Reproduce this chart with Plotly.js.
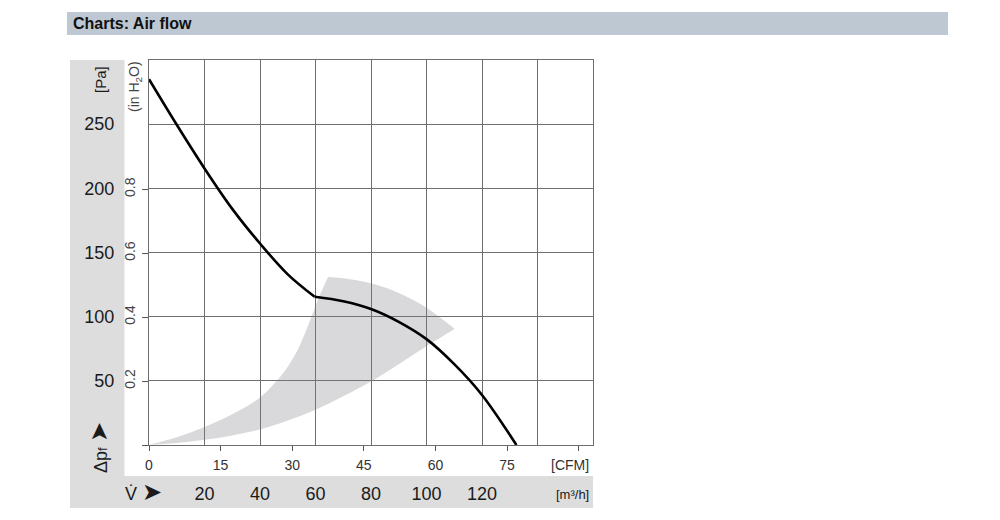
<!DOCTYPE html>
<html>
<head>
<meta charset="utf-8">
<script src="https://cdn.plot.ly/plotly-3.0.1.min.js"></script>
<style>html,body{margin:0;padding:0;background:#fff;}#chart{width:1000px;height:520px;}</style>
</head>
<body>
<div id="chart"></div>
<script>
// Characteristic curve: volume flow [m³/h] vs static pressure [Pa]
const flowM3h = [0,10,20,30,40,50,59.7,70,80,90,100,110,120,132.4];
const pressurePa = [285,249.5,215.5,184,157,133,115.5,112,106,96,82.5,63,39,0];
const kinkIndex = 6; // sharp bend of the curve at 59.7 m³/h

// Recommended operating range (grey band): outer edge then inner edge
const bandOuterX = [0,0,10,20,30,40,46,50,54,58,61,64.5,64.5,70,80,90,100,110.2,110.2];
const bandOuterY = [0,0,6,14,24,37,50,61,76,97,114,131,131,130,126,118.5,107,90.5,90.5];
const bandInnerX = [105,100,90,80,70,60,50,40,30,20,10,0];
const bandInnerY = [83.5,77,63,49.5,38,27.5,19,12,7.5,4,1.5,0];

// Axis ticks
const m3hTicks = [0,20,40,60,80,100,120,140,160];
const m3hLabels = ['','20','40','60','80','100','120','',''];
const cfmTicks = [0,15,30,45,60,75,90];
const cfmLabels = ['0','15','30','45','60','75',''];
const paTicks = [0,50,100,150,200,250,300];
const paLabels = ['','50','100','150','200','250',''];
const inH2OTicks = [0,0.2,0.4,0.6,0.8];
const inH2OLabels = ['','0.2','0.4','0.6','0.8'];

const FONT = 'Liberation Sans, Arial, Helvetica, sans-serif';
const GRID = '#6e6e6e';

const traces = [
  {
    x: bandOuterX.concat(bandInnerX),
    y: bandOuterY.concat(bandInnerY),
    type: 'scatter', mode: 'lines', fill: 'toself',
    fillcolor: 'rgba(128,130,136,0.30)', line: {width: 0, shape: 'spline', smoothing: 1},
    hoverinfo: 'skip', xaxis: 'x', yaxis: 'y'
  },
  {
    x: flowM3h.slice(0, kinkIndex + 1), y: pressurePa.slice(0, kinkIndex + 1),
    type: 'scatter', mode: 'lines',
    line: {color: '#000', width: 2.6, shape: 'spline', smoothing: 1},
    xaxis: 'x', yaxis: 'y'
  },
  {
    x: flowM3h.slice(kinkIndex), y: pressurePa.slice(kinkIndex),
    type: 'scatter', mode: 'lines',
    line: {color: '#000', width: 2.6, shape: 'spline', smoothing: 1},
    xaxis: 'x', yaxis: 'y'
  },
  {x: [], y: [], type: 'scatter', mode: 'lines', xaxis: 'x2', yaxis: 'y', hoverinfo: 'skip'},
  {x: [], y: [], type: 'scatter', mode: 'lines', xaxis: 'x', yaxis: 'y2', hoverinfo: 'skip'}
];

const W = 444, H = 385, L = 149, T = 60;
const px = v => (v - L) / W;
const py = v => (T + H - v) / H;

const layout = {
  width: 1000, height: 520,
  margin: {l: 149, r: 407, t: 60, b: 75, pad: 0},
  paper_bgcolor: '#fff', plot_bgcolor: '#fff',
  showlegend: false,
  font: {family: FONT, color: '#1a1a1a'},
  xaxis: {
    range: [0, 160], tickmode: 'array', tickvals: m3hTicks, ticktext: m3hLabels,
    showgrid: true, gridcolor: GRID, gridwidth: 1, zeroline: false,
    ticks: '', ticklabelstandoff: 32,
    tickfont: {size: 18, color: '#1a1a1a', family: FONT},
    showline: true, mirror: true, linecolor: GRID, linewidth: 1, fixedrange: true
  },
  xaxis2: {
    overlaying: 'x', anchor: 'y', side: 'bottom',
    range: [0, 93], tickmode: 'array', tickvals: cfmTicks, ticktext: cfmLabels,
    showgrid: false, zeroline: false, showline: false,
    ticks: 'outside', ticklen: 5, tickcolor: '#555', tickwidth: 1,
    ticklabelstandoff: 2,
    tickfont: {size: 14, color: '#333', family: FONT}, fixedrange: true
  },
  yaxis: {
    range: [0, 300], tickmode: 'array', tickvals: paTicks, ticktext: paLabels,
    showgrid: true, gridcolor: GRID, gridwidth: 1, zeroline: false,
    ticks: '', ticklabelstandoff: 30,
    tickfont: {size: 18, color: '#1a1a1a', family: FONT},
    showline: true, mirror: true, linecolor: GRID, linewidth: 1, fixedrange: true
  },
  yaxis2: {
    overlaying: 'y', anchor: 'x', side: 'left',
    range: [0, 300 / 249.089], tickmode: 'array', tickvals: inH2OTicks, ticktext: inH2OLabels,
    showgrid: false, zeroline: false, showline: false,
    ticks: 'outside', ticklen: 6, tickcolor: '#555', tickwidth: 1,
    tickangle: -90, ticklabelstandoff: 1,
    tickfont: {size: 14, color: '#444', family: FONT}, fixedrange: true
  },
  shapes: [
    {type: 'rect', xref: 'paper', yref: 'paper', x0: px(67), x1: px(948), y0: py(35), y1: py(12),
     fillcolor: '#bec8d2', line: {width: 0}, layer: 'below'},
    {type: 'rect', xref: 'paper', yref: 'paper', x0: px(70), x1: px(124.5), y0: py(508), y1: py(60),
     fillcolor: '#dddddd', line: {width: 0}, layer: 'below'},
    {type: 'rect', xref: 'paper', yref: 'paper', x0: px(70), x1: px(593), y0: py(508), y1: py(476),
     fillcolor: '#dddddd', line: {width: 0}, layer: 'below'}
  ],
  annotations: [
    {text: '<b>Charts: Air flow</b>', xref: 'paper', yref: 'paper', x: px(71), y: py(23.5),
     xanchor: 'left', yanchor: 'middle', showarrow: false,
     font: {family: FONT, size: 16, color: '#111'}},
    {text: '[Pa]', xref: 'paper', yref: 'paper', x: px(100), y: py(80), textangle: -90,
     xanchor: 'center', yanchor: 'middle', showarrow: false, font: {size: 15, color: '#1a1a1a'}},
    {text: '(in H<sub>2</sub>O)', xref: 'paper', yref: 'paper', x: px(135), y: py(87), textangle: -90,
     xanchor: 'center', yanchor: 'middle', showarrow: false, font: {size: 14, color: '#444'}},
    {text: 'Δp<span style="font-size:13px">f</span> <span style="font-size:24px">➤</span>', xref: 'paper', yref: 'paper', x: px(99), y: py(448), textangle: -90,
     xanchor: 'center', yanchor: 'middle', showarrow: false, font: {size: 18, color: '#1a1a1a'}},
    {text: 'V\u0307 <span style="font-size:24px">➤</span>', xref: 'paper', yref: 'paper', x: px(143), y: py(491),
     xanchor: 'center', yanchor: 'middle', showarrow: false, font: {size: 18, color: '#1a1a1a'}},
    {text: '[CFM]', xref: 'paper', yref: 'paper', x: px(591), y: py(465),
     xanchor: 'right', yanchor: 'middle', showarrow: false, font: {size: 14, color: '#333'}},
    {text: '[m³/h]', xref: 'paper', yref: 'paper', x: px(591), y: py(494),
     xanchor: 'right', yanchor: 'middle', showarrow: false, font: {size: 13, color: '#1a1a1a'}}
  ]
};

Plotly.newPlot('chart', traces, layout, {staticPlot: true, displayModeBar: false});
</script>
</body>
</html>
